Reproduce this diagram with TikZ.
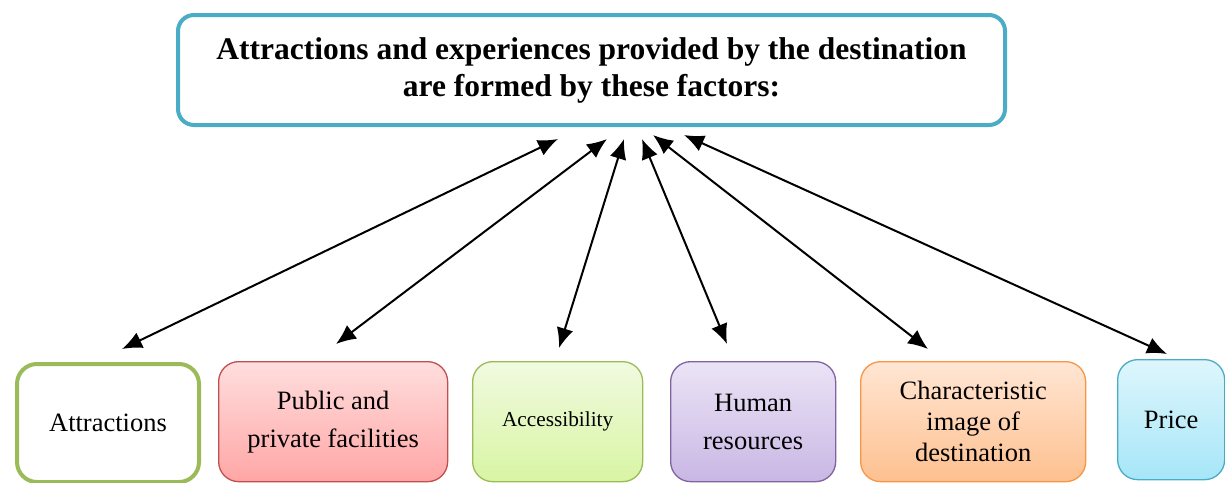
\documentclass[tikz,border=0pt]{standalone}
\usepackage{fontspec}
\setmainfont{Liberation Serif}
\usetikzlibrary{arrows.meta}
\definecolor{tealB}{HTML}{4BACC6}
\definecolor{greenB}{HTML}{9BBB59}
\definecolor{redB}{HTML}{C0504D}
\definecolor{purpB}{HTML}{8064A2}
\definecolor{orangeB}{HTML}{F79646}
\tikzset{
  factor/.style={rounded corners=20pt, anchor=north west, inner sep=0pt, align=center, font=\fontsize{26.5}{38}\selectfont},
  link/.style={line width=2pt, {Latex[length=20pt,width=17pt]}-{Latex[length=20pt,width=17pt]}}
}
\begin{document}
\begin{tikzpicture}[x=1pt,y=-1pt]
\useasboundingbox (0,0) rectangle (1225,482);
% title
\node[draw=tealB, line width=4pt, rounded corners=16pt, minimum width=827pt, minimum height=110pt, align=center,
  font=\fontsize{31.5}{37}\selectfont\bfseries] (top) at (591.5,70)
  {Attractions and experiences provided by the destination\\are formed by these factors:};
% factor boxes
\node[factor, draw=greenB, line width=4pt, fill=white, minimum width=182pt, minimum height=118pt] (f1) at (15,362) {Attractions};
\node[factor, draw=redB, line width=1.3pt, top color=red!13, bottom color=red!35!white, minimum width=229pt, minimum height=120pt] (f2) at (218,361) {Public and\\private facilities};
\node[factor, draw=greenB, line width=1.3pt, top color={rgb,255:red,241;green,250;blue,224}, bottom color={rgb,255:red,216;green,245;blue,163}, minimum width=170pt, minimum height=120pt, font=\fontsize{21.3}{26}\selectfont] (f3) at (472,361) {Accessibility};
\node[factor, draw=purpB, line width=1.3pt, top color={rgb,255:red,235;green,228;blue,246}, bottom color={rgb,255:red,201;green,183;blue,228}, minimum width=165pt, minimum height=120pt] (f4) at (670,361) {Human\\resources};
\node[factor, draw=orangeB, line width=1.3pt, top color={rgb,255:red,255;green,230;blue,212}, bottom color={rgb,255:red,254;green,192;blue,143}, minimum width=225pt, minimum height=120pt, font=\fontsize{26.5}{31}\selectfont] (f5) at (860,361) {Characteristic\\image of\\destination};
\node[factor, draw=tealB, line width=1.3pt, top color={rgb,255:red,222;green,246;blue,252}, bottom color={rgb,255:red,166;green,230;blue,248}, minimum width=107pt, minimum height=120pt] (f6) at (1117,359) {Price};
% connector end points
\coordinate (t1) at (558,139); \coordinate (b1) at (122,349);
\coordinate (t2) at (607,139); \coordinate (b2) at (336,344);
\coordinate (t3) at (624,139); \coordinate (b3) at (559,348);
\coordinate (t4) at (642,139); \coordinate (b4) at (727,344);
\coordinate (t5) at (653,135); \coordinate (b5) at (928,349);
\coordinate (t6) at (684,135); \coordinate (b6) at (1167,354);
\foreach \i in {1,...,6} \draw[link] (t\i) -- (b\i);
\end{tikzpicture}
\end{document}
